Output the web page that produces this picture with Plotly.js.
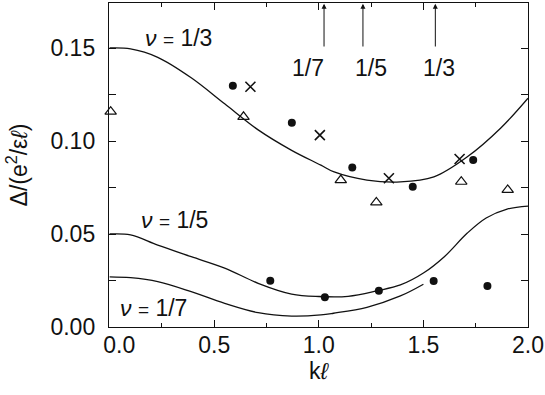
<!DOCTYPE html>
<html>
<head>
<meta charset="utf-8">
<script src="https://cdn.plot.ly/plotly-3.0.1.min.js"></script>
<style>
  html, body { margin: 0; padding: 0; background: #fff; }
  #plot { width: 545px; height: 395px; }
</style>
</head>
<body>
<div id="plot"></div>
<script>
// curvas teóricas
const nu13X = [0, 0.1, 0.23, 0.39, 0.55, 0.71, 0.87, 1.01, 1.07, 1.23, 1.39, 1.55, 1.71, 1.87, 2.0];
const nu13Y = [0.150, 0.1495, 0.145, 0.134, 0.120, 0.106, 0.095, 0.087, 0.0835, 0.079, 0.078, 0.0807, 0.0915, 0.107, 0.123];

const nu15X = [0, 0.1, 0.23, 0.39, 0.55, 0.71, 0.87, 1.0, 1.14, 1.28, 1.39, 1.5, 1.6, 1.71, 1.8, 1.9, 2.0];
const nu15Y = [0.050, 0.0495, 0.044, 0.0378, 0.0317, 0.0235, 0.0177, 0.0164, 0.0165, 0.0195, 0.0226, 0.029, 0.0378, 0.0505, 0.0586, 0.0634, 0.065];

const nu17X = [0, 0.1, 0.23, 0.39, 0.55, 0.71, 0.87, 1.01, 1.07, 1.23, 1.39, 1.5];
const nu17Y = [0.027, 0.0265, 0.0244, 0.019, 0.0127, 0.0077, 0.0059, 0.0065, 0.0074, 0.0106, 0.0167, 0.023];

// pontos
const circX = [0.589, 0.871, 1.160, 1.449, 1.738, 0.768, 1.029, 1.287, 1.549, 1.806];
const circY = [0.1297, 0.1098, 0.0857, 0.0754, 0.0898, 0.0249, 0.016, 0.0195, 0.0247, 0.022];

const crossX = [0.673, 1.005, 1.335, 1.673];
const crossY = [0.1292, 0.1032, 0.080, 0.0903];

const triX = [0.005, 0.640, 1.105, 1.275, 1.681, 1.903];
const triY = [0.1158, 0.113, 0.079, 0.067, 0.0781, 0.0737];

// setas no topo
const arrowX = [1.025, 1.211, 1.557];
const arrowLabels = ["1/7", "1/5", "1/3"];

const xTicks = [0, 0.5, 1.0, 1.5, 2.0];
const xTickText = ["\u00a0\u00a0\u00a00.0", "0.5", "1.0", "1.5", "2.0"];
const yTicks = [0, 0.05, 0.10, 0.15];
const yTickText = ["0.00", "0.05", "0.10", "0.15"];

const FONT = "Liberation Sans, Arial, Helvetica, sans-serif";
const INK = "#111";

function curve(x, y) {
    return {
        x: x, y: y, mode: "lines", type: "scatter",
        line: { color: INK, width: 1.3, shape: "spline", smoothing: 1 },
        hoverinfo: "none"
    };
}

const traces = [
    curve(nu13X, nu13Y),
    curve(nu15X, nu15Y),
    curve(nu17X, nu17Y),
    {
        x: circX, y: circY, mode: "markers", type: "scatter",
        marker: { symbol: "circle", size: 8, color: INK }
    },
    {
        x: crossX, y: crossY, mode: "markers", type: "scatter",
        marker: { symbol: "x-thin-open", size: 10, color: INK, line: { color: INK, width: 1.6 } }
    },
    {
        x: triX, y: triY, mode: "markers", type: "scatter", cliponaxis: false,
        marker: { symbol: "triangle-up-open", size: 10, color: INK, line: { color: INK, width: 1.2 } }
    }
];

const nuLabel = (frac) => `<i>ν</i> <span style="font-size:19px">=</span> ${frac}`;

const labelShift = [-16, 8, 4];
const annotations = [];
arrowX.forEach((xa, i) => {
    annotations.push({
        x: xa, y: 0.1738, ax: xa, ay: 0.15, xref: "x", yref: "y", axref: "x", ayref: "y",
        showarrow: true, arrowhead: 2, arrowsize: 1, arrowwidth: 1, arrowcolor: INK, text: ""
    });
    annotations.push({
        x: xa, y: 0.139, xref: "x", yref: "y", xshift: labelShift[i],
        text: arrowLabels[i], showarrow: false, font: { family: FONT, size: 23, color: INK }
    });
});
[
    { x: 0.33, y: 0.1555, t: "1/3" },
    { x: 0.31, y: 0.0575, t: "1/5" },
    { x: 0.21, y: 0.0102, t: "1/7" }
].forEach((a) => {
    annotations.push({
        x: a.x, y: a.y, xref: "x", yref: "y", text: nuLabel(a.t), showarrow: false,
        font: { family: FONT, size: 23, color: INK }
    });
});

const axisCommon = {
    showline: true, linecolor: INK, linewidth: 1.2, mirror: "ticks",
    ticks: "inside", ticklen: 7, tickwidth: 1, tickcolor: INK,
    showgrid: false, zeroline: false,
    tickfont: { family: FONT, size: 23, color: INK }
};

const layout = {
    width: 545, height: 395,
    margin: { l: 109, r: 17, t: 3, b: 68 },
    paper_bgcolor: "#fff", plot_bgcolor: "#fff",
    showlegend: false,
    xaxis: Object.assign({}, axisCommon, {
        range: [-0.003, 2.0],
        tickvals: xTicks, ticktext: xTickText,
        minor: { dtick: 0.25, tick0: 0, ticks: "inside", ticklen: 4, tickcolor: INK },
        ticklabelstandoff: -3,
        title: { text: "k<i>ℓ</i>", font: { family: FONT, size: 23, color: INK }, standoff: 4 }
    }),
    yaxis: Object.assign({}, axisCommon, {
        range: [0, 0.1742],
        tickvals: yTicks, ticktext: yTickText,
        minor: { dtick: 0.025, tick0: 0, ticks: "inside", ticklen: 7, tickcolor: INK },
        ticklabelstandoff: 8,
        title: { text: "Δ/(e<sup>2</sup>/ε<i>ℓ</i>)", font: { family: FONT, size: 23, color: INK }, standoff: 16 }
    }),
    annotations: annotations
};

Plotly.newPlot("plot", traces, layout, { staticPlot: true, displayModeBar: false });
</script>
</body>
</html>
